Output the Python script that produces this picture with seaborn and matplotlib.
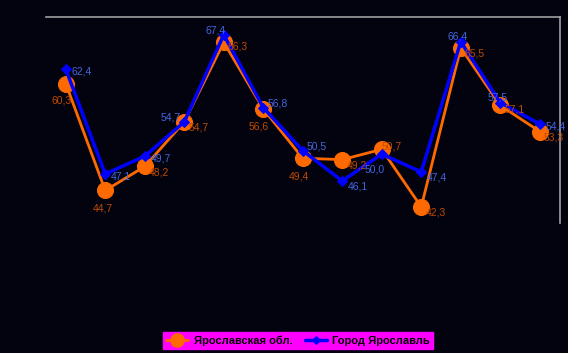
import matplotlib
matplotlib.use("Agg")
import matplotlib.pyplot as plt
import seaborn as sns
import pandas as pd

categories = list(range(1, 14))
region_vals = [60.3, 44.7, 48.2, 54.7, 66.3, 56.6, 49.4, 49.2, 50.7, 42.3, 65.5, 57.1, 53.3]
city_vals = [62.4, 47.1, 49.7, 54.7, 67.4, 56.8, 50.5, 46.1, 50.0, 47.4, 66.4, 57.5, 54.4]
series_names = ["Ярославская обл.", "Город Ярославль"]

# label offsets (points)
region_off = [(-3, -12), (-2, -13), (3, -4), (3, -4), (3, -3), (-3, -13), (-3, -13), (3, -4), (0, 2), (3, -4), (3, -4), (3, -3), (3, -4)]
city_off = [(4, -2), (4, -2), (4, -2), (-10, 3), (-6, 3), (3, 3), (3, 3), (4, -4), (-5, -11), (4, -4), (-2, 4), (-2, 4), (4, -2)]

sns.set_style("white")
plt.rcParams['font.family'] = ['Liberation Sans', 'DejaVu Sans']

bg = "#03030f"
orange = "#ff6a00"
blue = "#0000ff"

fig = plt.figure(figsize=(5.68, 3.53), dpi=100, facecolor=bg)
ax = fig.add_axes([46/568, 1-222.7/353, (559.5-46)/568, (222.7-17)/353])
ax.set_facecolor(bg)

df = pd.DataFrame({"x": list(range(len(categories))) * 2,
                   "y": region_vals + city_vals,
                   "s": [series_names[0]] * len(categories) + [series_names[1]] * len(categories)})

sns.lineplot(data=df[df.s == series_names[0]], x="x", y="y", ax=ax, color=orange,
             lw=2, marker="o", markersize=11.5, markeredgecolor=orange, label=series_names[0])
sns.lineplot(data=df[df.s == series_names[1]], x="x", y="y", ax=ax, color=blue,
             lw=2.5, marker="D", markersize=5, markeredgecolor=blue, label=series_names[1])

for i, v in enumerate(region_vals):
    ax.annotate(f"{v:.1f}".replace(".", ","), (i, v), xytext=region_off[i], textcoords="offset points",
                fontsize=7.5, color="#c04a00", ha="left" if region_off[i][0] >= 0 else "center",
                va="center")
for i, v in enumerate(city_vals):
    ax.annotate(f"{v:.1f}".replace(".", ","), (i, v), xytext=city_off[i], textcoords="offset points",
                fontsize=7.5, color="#4466e0", ha="left" if city_off[i][0] >= 0 else "center",
                va="center")

ax.set_xlim(-0.5, len(categories) - 0.5)
ax.set_ylim(40, 70)
ax.set_xticks([])
ax.set_yticks([])
ax.set_xlabel("")
ax.set_ylabel("")
for s in ["left", "bottom"]:
    ax.spines[s].set_visible(False)
for s in ["top", "right"]:
    ax.spines[s].set_visible(True)
    ax.spines[s].set_color("#a0a0a0")
    ax.spines[s].set_linewidth(1.2)

leg = ax.legend(loc="center", bbox_to_anchor=(298/568, 1-340.5/353), bbox_transform=fig.transFigure,
                ncol=2, frameon=True, facecolor="#ff00ff", edgecolor="#ff00ff", framealpha=1,
                fancybox=False, handlelength=2.0, columnspacing=1.1,
                borderpad=0.3, handletextpad=0.5, markerscale=0.85,
                prop={"weight": "bold", "size": 8})
for t in leg.get_texts():
    t.set_color("black")

fig.savefig("out.png", dpi=100, facecolor=bg)
